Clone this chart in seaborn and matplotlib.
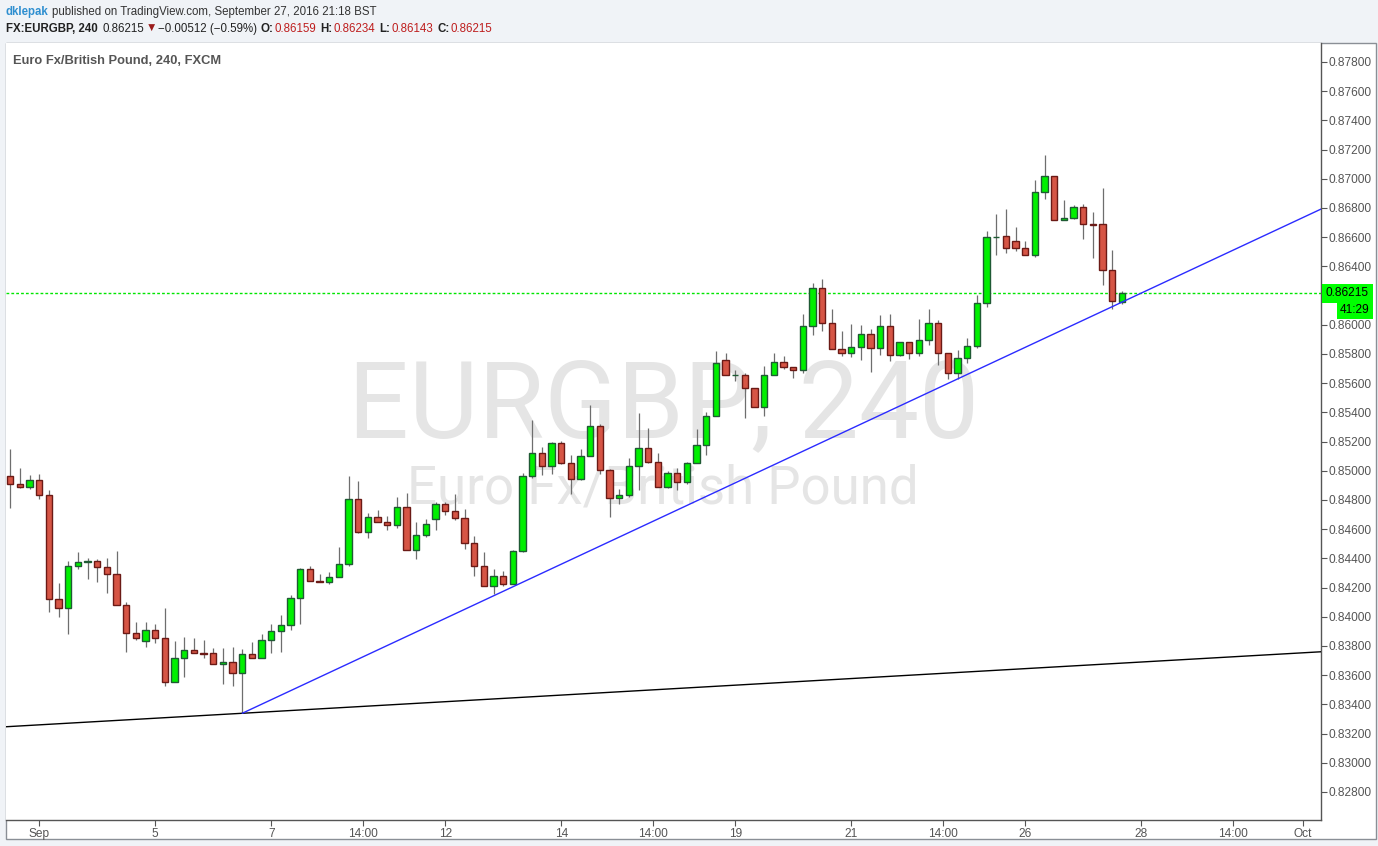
import numpy as np
import matplotlib
matplotlib.use("Agg")
import matplotlib.pyplot as plt
from matplotlib import font_manager
from matplotlib.patches import Rectangle
import seaborn as sns

# --- EURGBP 4h candles ------------------------------------------------
opens = [0.84962, 0.84907, 0.84887, 0.84935, 0.84832, 0.84120, 0.84058, 0.84346, 0.84373, 0.84380,
         0.84339, 0.84291, 0.84079, 0.83887, 0.83832, 0.83907, 0.83853, 0.83551, 0.83716, 0.83770,
         0.83752, 0.83750, 0.83675, 0.83688, 0.83613, 0.83743, 0.83716, 0.83839, 0.83901, 0.83942,
         0.84127, 0.84325, 0.84243, 0.84236, 0.84270, 0.84359, 0.84805, 0.84583, 0.84681, 0.84647,
         0.84627, 0.84750, 0.84455, 0.84558, 0.84668, 0.84770, 0.84722, 0.84674, 0.84503, 0.84346,
         0.84209, 0.84277, 0.84222, 0.84448, 0.84962, 0.85120, 0.85031, 0.85188, 0.85051, 0.84941,
         0.85099, 0.85305, 0.85003, 0.84811, 0.84832, 0.85031, 0.85154, 0.85058, 0.84887, 0.84983,
         0.84921, 0.85051, 0.85174, 0.85373, 0.85757, 0.85654, 0.85654, 0.85565, 0.85435, 0.85654,
         0.85743, 0.85709, 0.85688, 0.85989, 0.86250, 0.86010, 0.85832, 0.85805, 0.85846, 0.85935,
         0.85839, 0.85989, 0.85791, 0.85880, 0.85805, 0.85894, 0.86010, 0.85805, 0.85668, 0.85770,
         0.85853, 0.86147, 0.86599, 0.86606, 0.86572, 0.86524, 0.86476, 0.86907, 0.87017, 0.86716,
         0.86729, 0.86805, 0.86688, 0.86688, 0.86373, 0.86159]
highs = [0.85149, 0.85019, 0.84971, 0.84978, 0.84869, 0.84232, 0.84382, 0.84444, 0.84403, 0.84396,
         0.84403, 0.84451, 0.84099, 0.83965, 0.83965, 0.83951, 0.84060, 0.83834, 0.83862, 0.83855,
         0.83841, 0.83786, 0.83786, 0.83793, 0.83780, 0.83827, 0.83882, 0.83951, 0.84012, 0.84149,
         0.84332, 0.84348, 0.84291, 0.84307, 0.84478, 0.84964, 0.84930, 0.84711, 0.84732, 0.84690,
         0.84821, 0.84848, 0.84649, 0.84670, 0.84789, 0.84789, 0.84841, 0.84736, 0.84551, 0.84442,
         0.84325, 0.84311, 0.84455, 0.84983, 0.85348, 0.85165, 0.85197, 0.85204, 0.85106, 0.85147,
         0.85451, 0.85318, 0.85010, 0.84873, 0.85085, 0.85394, 0.85291, 0.85120, 0.84996, 0.85017,
         0.85058, 0.85284, 0.85400, 0.85821, 0.85807, 0.85688, 0.85668, 0.85565, 0.85716, 0.85805,
         0.85784, 0.85709, 0.86074, 0.86284, 0.86311, 0.86106, 0.85955, 0.86003, 0.85996, 0.85969,
         0.86065, 0.86072, 0.85880, 0.85880, 0.86037, 0.86106, 0.86031, 0.85805, 0.85825, 0.85907,
         0.86207, 0.86642, 0.86759, 0.86793, 0.86670, 0.86574, 0.86992, 0.87163, 0.87017, 0.86855,
         0.86818, 0.86825, 0.86773, 0.86935, 0.86510, 0.86234]
lows = [0.84748, 0.84882, 0.84878, 0.84809, 0.84035, 0.84001, 0.83885, 0.84330, 0.84261, 0.84241,
        0.84165, 0.84079, 0.83761, 0.83844, 0.83796, 0.83823, 0.83528, 0.83551, 0.83590, 0.83750,
        0.83720, 0.83675, 0.83542, 0.83528, 0.83339, 0.83716, 0.83716, 0.83750, 0.83761, 0.83912,
        0.83953, 0.84243, 0.84236, 0.84227, 0.84270, 0.84350, 0.84572, 0.84542, 0.84647, 0.84595,
        0.84611, 0.84455, 0.84398, 0.84549, 0.84595, 0.84700, 0.84661, 0.84462, 0.84277, 0.84209,
        0.84154, 0.84209, 0.84222, 0.84442, 0.84948, 0.84969, 0.84976, 0.85044, 0.84839, 0.84935,
        0.85099, 0.84976, 0.84681, 0.84770, 0.84818, 0.84866, 0.85051, 0.84887, 0.84880, 0.84866,
        0.84907, 0.85051, 0.85106, 0.85373, 0.85654, 0.85613, 0.85359, 0.85435, 0.85373, 0.85654,
        0.85695, 0.85633, 0.85668, 0.85928, 0.85960, 0.85832, 0.85784, 0.85777, 0.85757, 0.85674,
        0.85791, 0.85750, 0.85784, 0.85764, 0.85784, 0.85859, 0.85722, 0.85627, 0.85627, 0.85736,
        0.85840, 0.86124, 0.86478, 0.86494, 0.86508, 0.86476, 0.86467, 0.86859, 0.86716, 0.86716,
        0.86722, 0.86585, 0.86455, 0.86270, 0.86106, 0.86143]
closes = [0.84907, 0.84887, 0.84935, 0.84832, 0.84120, 0.84058, 0.84346, 0.84373, 0.84380, 0.84339,
          0.84291, 0.84079, 0.83887, 0.83853, 0.83907, 0.83853, 0.83551, 0.83716, 0.83770, 0.83750,
          0.83748, 0.83675, 0.83688, 0.83613, 0.83743, 0.83716, 0.83839, 0.83901, 0.83942, 0.84127,
          0.84325, 0.84243, 0.84236, 0.84270, 0.84359, 0.84805, 0.84583, 0.84681, 0.84647, 0.84627,
          0.84750, 0.84455, 0.84558, 0.84633, 0.84770, 0.84722, 0.84674, 0.84503, 0.84346, 0.84209,
          0.84277, 0.84222, 0.84448, 0.84962, 0.85120, 0.85031, 0.85188, 0.85051, 0.84941, 0.85099,
          0.85305, 0.85003, 0.84811, 0.84832, 0.85031, 0.85154, 0.85058, 0.84887, 0.84983, 0.84921,
          0.85051, 0.85174, 0.85373, 0.85736, 0.85654, 0.85656, 0.85565, 0.85435, 0.85654, 0.85743,
          0.85709, 0.85688, 0.85989, 0.86250, 0.86010, 0.85832, 0.85805, 0.85846, 0.85935, 0.85839,
          0.85989, 0.85791, 0.85880, 0.85805, 0.85894, 0.86010, 0.85805, 0.85668, 0.85770, 0.85853,
          0.86147, 0.86599, 0.86604, 0.86524, 0.86524, 0.86476, 0.86907, 0.87017, 0.86716, 0.86729,
          0.86805, 0.86688, 0.86686, 0.86373, 0.86161, 0.86215]

# time axis labels (candle index positions)
tick_pos = [3, 15, 27, 36.5, 45, 57, 66.5, 75, 87, 96.5, 105, 117, 126.5, 133.7]
tick_labels = ["Sep", "5", "7", "14:00", "12", "14", "14:00", "19", "21", "14:00",
               "26", "28", "14:00", "Oct"]
price_ticks = np.round(np.arange(0.828, 0.8781, 0.002), 3)

# drawn trendlines: (candle index, price) anchors
black_line = [(24, 0.83339), (135, 0.83758)]
blue_line = [(24, 0.83339), (114, 0.86124)]
last_price = 0.86215
countdown = "41:29"
change_text = "\u22120.00512 (\u22120.59%)"

W, H = 1378, 846
RED, RED_EDGE = "#d65545", "#6b1a16"
GREEN, GREEN_EDGE = "#00f000", "#1f5a34"
WICK = "#6e6e6e"

sns.set_theme(style="white")
available = {f.name for f in font_manager.fontManager.ttflist}
narrow = "Liberation Sans Narrow" if "Liberation Sans Narrow" in available else "Liberation Sans"
plt.rcParams["font.family"] = [narrow, "DejaVu Sans"]
head_fs = 10 if narrow == "Liberation Sans Narrow" else 8.3


def fx(px):
    return px / W


def fy(py):
    return 1 - py / H


fig = plt.figure(figsize=(W / 100, H / 100), dpi=100, facecolor="#f0f3f7")

# white chart panel (behind the axes)
fig.patches.append(Rectangle((fx(6), fy(839)), (1376 - 6) / W, (839 - 43) / H,
                             transform=fig.transFigure, facecolor="white",
                             edgecolor="#8a8f96", lw=1, zorder=-5))

ax = fig.add_axes([fx(6), fy(820), (1321 - 6) / W, (820 - 43) / H])
ax.set_zorder(1)
ax.set_facecolor("white")
ax.set_xlim(-0.44, 135.6)
ax.set_ylim(0.82608, 0.87930)

# watermark
ax.text(0.5004, 0.531, "EURGBP, 240", transform=ax.transAxes, ha="center", va="center",
        fontsize=77, color="#e5e5e5", family=["Roboto", "DejaVu Sans"], fontweight="normal",
        zorder=0)
ax.text(0.4996, 0.4266, "Euro Fx/British Pound", transform=ax.transAxes, ha="center",
        va="center", fontsize=38, color="#e5e5e5", family=["Roboto", "DejaVu Sans"],
        fontweight="normal", zorder=0)

# candles
idx = np.arange(len(opens))
o = np.array(opens)
c = np.array(closes)
up = c >= o
body_lo = np.minimum(o, c)
body_h = np.maximum(np.abs(c - o), 0.00003)
ax.vlines(idx, lows, highs, color=WICK, lw=0.9, zorder=2)
ax.bar(idx[up], body_h[up], bottom=body_lo[up], width=0.64, color=GREEN,
       edgecolor=GREEN_EDGE, lw=1, zorder=3)
ax.bar(idx[~up], body_h[~up], bottom=body_lo[~up], width=0.64, color=RED,
       edgecolor=RED_EDGE, lw=1, zorder=3)

# trendlines
x_left, x_right = ax.get_xlim()
(bx0, by0), (bx1, by1) = black_line
k = (by1 - by0) / (bx1 - bx0)
sns.lineplot(x=[x_left, x_right], y=[by0 + k * (x_left - bx0), by0 + k * (x_right - bx0)],
             color="black", lw=1, ax=ax, zorder=4)
(ux0, uy0), (ux1, uy1) = blue_line
k = (uy1 - uy0) / (ux1 - ux0)
sns.lineplot(x=[ux0, x_right], y=[uy0, uy0 + k * (x_right - ux0)],
             color="#2b2bff", lw=1, ax=ax, zorder=4)
ax.set_xlim(x_left, x_right)

# last price line
ax.axhline(last_price, color="#00e600", lw=1, ls=(0, (2, 1.5)), zorder=1)

# axes styling
for side in ["top", "left"]:
    ax.spines[side].set_visible(False)
for side in ["right", "bottom"]:
    ax.spines[side].set_color("#555555")
    ax.spines[side].set_linewidth(1)

ax.yaxis.tick_right()
ax.set_yticks(price_ticks)
# the 0.86200 label sits under the last-price tag in the original
ax.set_yticklabels(["" if abs(p - 0.862) < 1e-9 else f"{p:.5f}" for p in price_ticks])
ax.tick_params(axis="y", left=False, right=True, labelleft=False, labelright=True,
               length=4, width=0.8, color="#555555", labelcolor="#555555",
               labelsize=8.6, pad=1.5)
ax.set_xticks(tick_pos)
ax.set_xticklabels(tick_labels)
ax.tick_params(axis="x", bottom=True, length=4, width=0.8, color="#555555",
               labelcolor="#555555", labelsize=8.6, pad=2)
ax.set_xlabel("")
ax.set_ylabel("")

# price tag + countdown
ax.annotate(f"{last_price:.5f}", xy=(1, last_price), xycoords=("axes fraction", "data"),
            xytext=(5, 0), textcoords="offset pixels", ha="left", va="center",
            fontsize=8.6, color="black", annotation_clip=False, zorder=10,
            bbox=dict(boxstyle="square,pad=0.3", fc="#00ff00", ec="none"))
ax.annotate(countdown, xy=(1, last_price), xycoords=("axes fraction", "data"),
            xytext=(49, -17), textcoords="offset pixels", ha="right", va="center",
            fontsize=8.6, color="black", annotation_clip=False, zorder=10,
            bbox=dict(boxstyle="square,pad=0.25", fc="#00ff00", ec="none"))

# chart title inside panel
fig.text(fx(13), fy(61), "Euro Fx/British Pound, 240, FXCM", ha="left", va="center",
         fontsize=9.3, fontweight="bold", color="#555555")

# header lines: pieces laid out one after another
renderer = fig.canvas.get_renderer()


def header_row(y_px, pieces, x_px=6):
    for txt, col, wt, gap in pieces:
        t = fig.text(fx(x_px), fy(y_px), txt, ha="left", va="center", fontsize=head_fs,
                     fontweight=wt, color=col)
        x_px += t.get_window_extent(renderer).width + gap


red_val = "#be1e1e"
header_row(12, [
    ("dklepak", "#2f8fd0", "bold", 3),
    ("published on TradingView.com, September 27, 2016 21:18 BST", "#333333", "normal", 0),
])
header_row(29, [
    ("FX:EURGBP, 240", "#222222", "bold", 5),
    (f"{closes[-1]:.5f}", "#222222", "normal", 1),
    ("\u25bc", "#9b1c1c", "normal", 1),
    (change_text, "#222222", "normal", 4),
    ("O:", "#222222", "bold", 1),
    (f"{opens[-1]:.5f}", red_val, "normal", 4),
    ("H:", "#222222", "bold", 1),
    (f"{highs[-1]:.5f}", red_val, "normal", 4),
    ("L:", "#222222", "bold", 1),
    (f"{lows[-1]:.5f}", red_val, "normal", 4),
    ("C:", "#222222", "bold", 1),
    (f"{closes[-1]:.5f}", red_val, "normal", 0),
])

fig.savefig("out.png", dpi=100, facecolor=fig.get_facecolor())
